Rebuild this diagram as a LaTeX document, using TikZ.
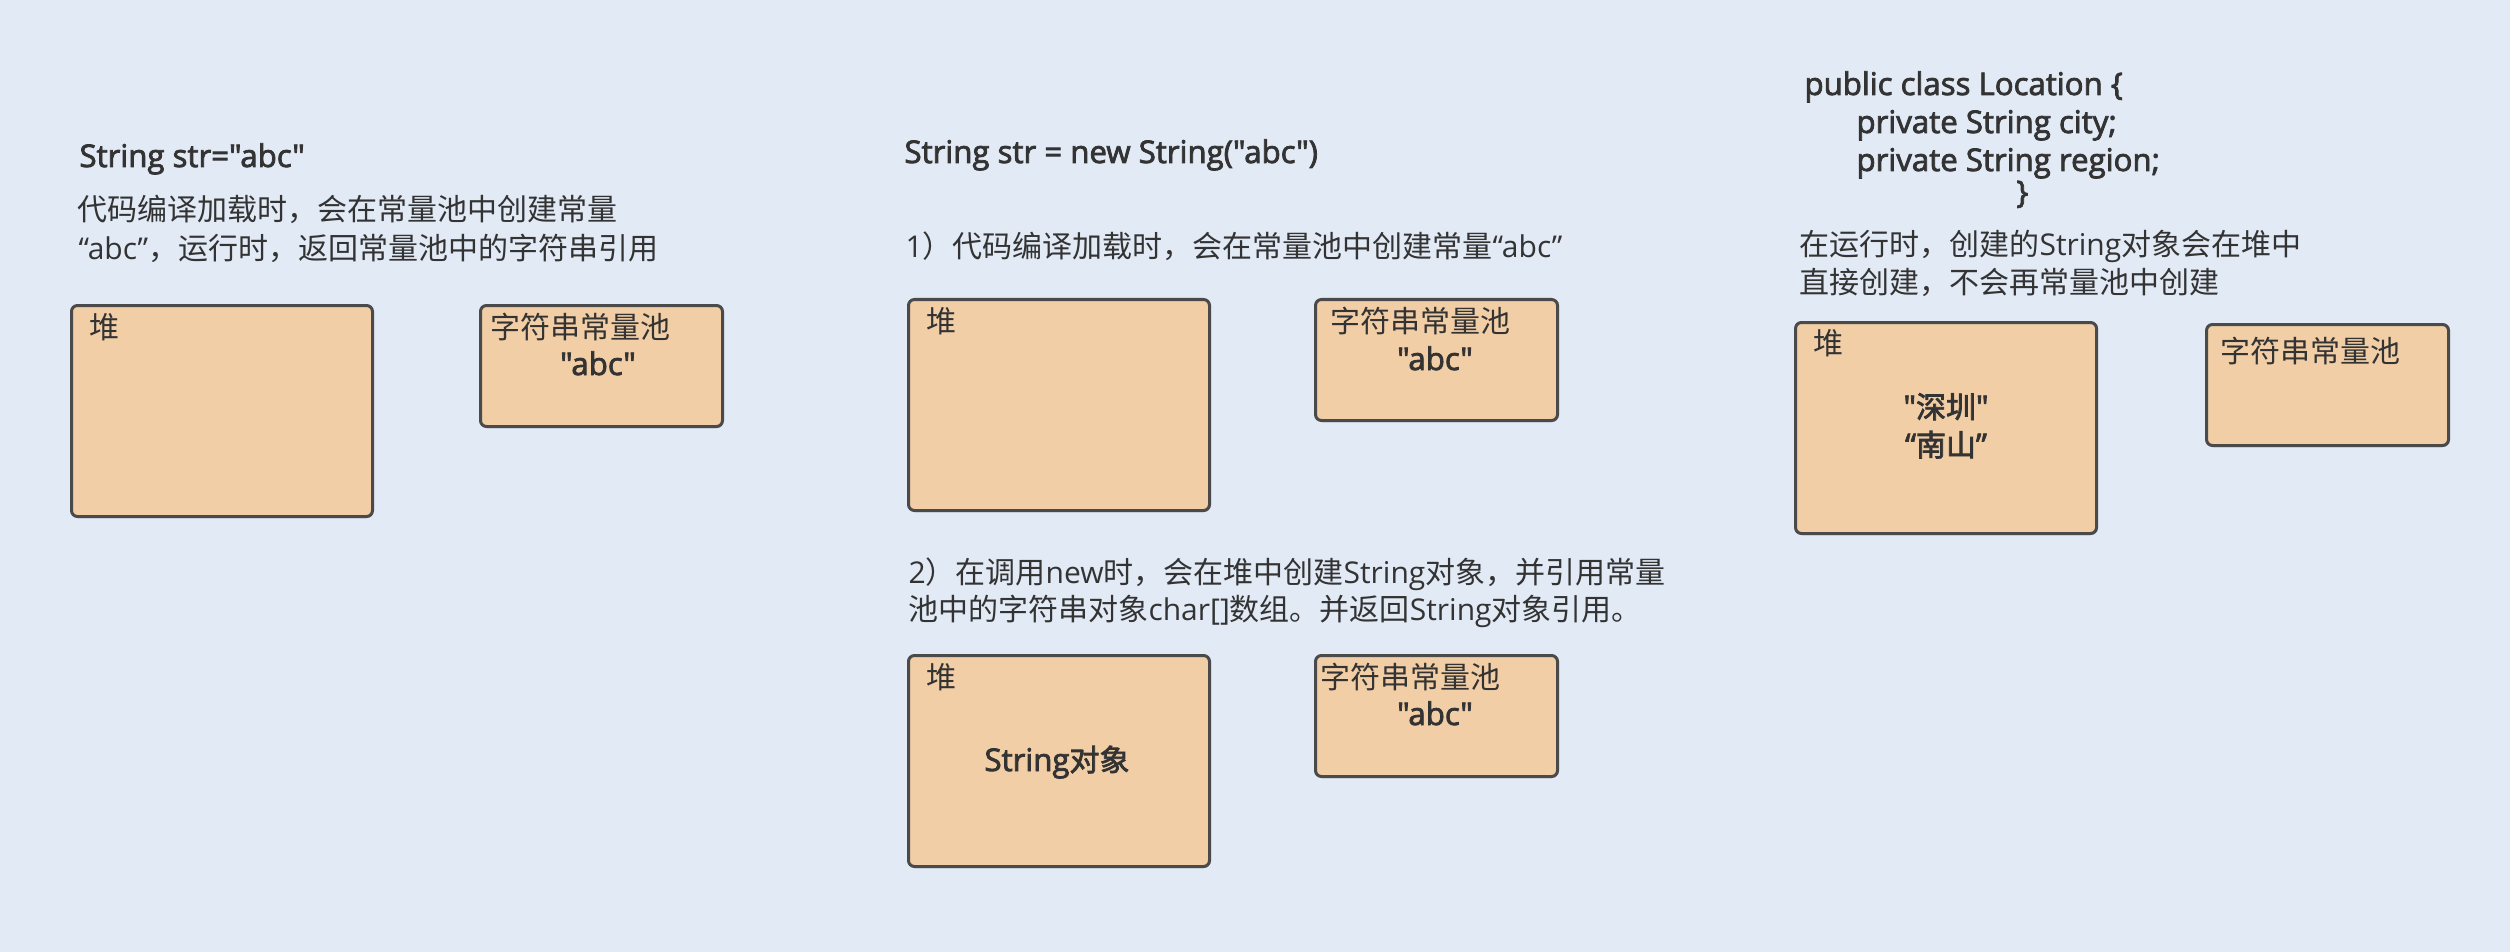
\documentclass[tikz,border=0pt]{standalone}
\usepackage{fontspec}
\setmainfont{Open Sans}
\newfontfamily\zh{Noto Sans CJK SC}
\newfontfamily\zhmed[FakeBold=2.5]{Noto Sans CJK SC}
\newfontfamily\enmed[FakeBold=2.5,Scale=1.04]{Open Sans}
\usetikzlibrary{shadows}
\definecolor{bgblue}{HTML}{E2EAF6}
\definecolor{boxfill}{HTML}{F2CEA6}
\definecolor{boxline}{HTML}{4A4A4A}
\definecolor{txtgray}{HTML}{333333}
\tikzset{
  txt/.style={anchor=base west, inner sep=0pt, text=txtgray, font=\fontsize{12}{14}\selectfont},
  ctxt/.style={txt, anchor=base},
  memory/.style={draw=boxline, fill=boxfill, line width=1.2pt, rounded corners=2.4pt, anchor=north west, inner sep=0pt,
    drop shadow={shadow xshift=0.3pt, shadow yshift=-0.6pt, opacity=0.25, fill=black}},
  heapbox/.style={memory, minimum width=120.4pt, minimum height=84.4pt},
  poolbox/.style={memory, minimum width=96.8pt, minimum height=48.4pt}
}
\begin{document}
\begin{tikzpicture}[x=0.4pt,y=0.4pt,yscale=-1,xscale=1]
\fill [bgblue] (0,0) rectangle (2510,952);
\useasboundingbox (0,0) rectangle (2510,952);
% String str="abc"
\node [txt] (codeA) at (79,167) {\enmed String str="abc"};
\node [txt] (descA1) at (77,221) {\zh 代码编译加载时，会在常量池中创建常量};
\node [txt] (descA2) at (78,259) {“abc”{\zh ，运行时，返回常量池中的字符串引用}};
\node [heapbox] (heapA) at (70,304) {};
\node [poolbox] (poolA) at (479,304) {};
\node [txt] (heapAlbl) at (89,338) {\zh 堆};
\node [txt] (poolAlbl) at (490,338) {\zh 字符串常量池};
\node [ctxt] (poolAval) at (598,375) {\enmed "abc"};
% String str = new String("abc")
\node [txt] (codeB) at (904,163) {\enmed String str = new String("abc")};
\node [txt] (stepB1) at (905,257) {1{\zh ）代码编译加载时，会在常量池中创建常量}“abc”};
\node [heapbox] (heapB) at (907,298) {};
\node [poolbox] (poolB) at (1314,298) {};
\node [txt] (heapBlbl) at (926,332) {\zh 堆};
\node [txt] (poolBlbl) at (1330,332) {\zh 字符串常量池};
\node [ctxt] (poolBval) at (1435,370) {\enmed "abc"};
\node [txt] (stepB2a) at (908,583) {2{\zh ）在调用}new{\zh 时，会在堆中创建}String{\zh 对象，并引用常量}};
\node [txt] (stepB2b) at (908,620) {{\zh 池中的字符串对象}char[]{\zh 数组。并返回}String{\zh 对象引用。}};
\node [heapbox] (heapC) at (907,654) {};
\node [poolbox] (poolC) at (1314,654) {};
\node [txt] (heapClbl) at (926,688) {\zh 堆};
\node [ctxt] (heapCval) at (1057,771) {\enmed String{\zhmed 对象}};
\node [txt] (poolClbl) at (1320,688) {\zh 字符串常量池};
\node [ctxt] (poolCval) at (1435,725) {\enmed "abc"};
% class Location
\node [txt] (classD) at (1804,95) {\enmed public class Location \{};
\node [txt] (cityD) at (1856,133) {\enmed private String city;};
\node [txt] (regionD) at (1856,171) {\enmed private String region;};
\node [txt] (braceD) at (2016,203) {\enmed \}};
\node [txt] (noteD1) at (1799,256) {{\zh 在运行时，创建的}String{\zh 对象会在堆中}};
\node [txt] (noteD2) at (1799,294) {\zh 直接创建，不会再常量池中创建};
\node [heapbox] (heapD) at (1794,321) {};
\node [poolbox] (poolD) at (2205,323) {};
\node [txt] (heapDlbl) at (1813,354) {\zh 堆};
\node [ctxt] (cityDval) at (1946,418) {\enmed "{\zhmed 深圳}"};
\node [ctxt] (regionDval) at (1946,456) {\enmed “{\zhmed 南山}”};
\node [txt] (poolDlbl) at (2220,362) {\zh 字符串常量池};
\end{tikzpicture}
\end{document}
